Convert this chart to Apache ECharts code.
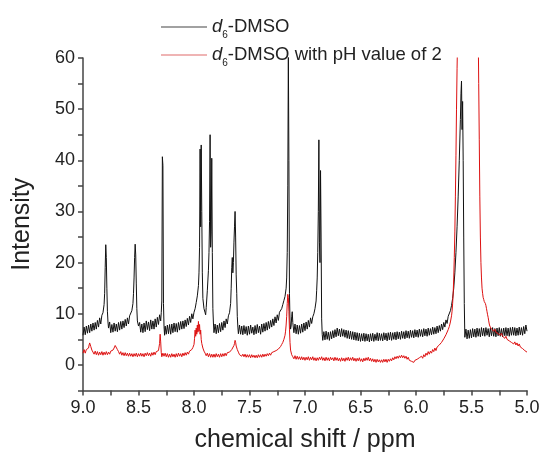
<!DOCTYPE html>
<html>
<head>
<meta charset="utf-8">
<script src="https://cdn.jsdelivr.net/npm/echarts@6/dist/echarts.min.js"></script>
<style>html,body{margin:0;padding:0;background:#fff}#c{width:547px;height:461px}</style>
</head>
<body>
<div id="c"></div>
<script>
// chemical shift (ppm), intensity pairs
var dmso = [
[9.00,5.8],[8.99,7.4],[8.98,5.9],[8.97,7.6],[8.96,6.2],[8.95,7.8],[8.94,6.3],[8.93,8.0],[8.92,6.6],[8.91,8.2],[8.90,6.8],[8.89,8.3],[8.88,7.0],[8.87,8.7],[8.86,7.4],[8.85,9.2],[8.84,8.0],[8.83,9.7],[8.82,10.2],[8.81,11.8],[8.805,14],[8.80,19],[8.795,23.5],[8.79,21],[8.785,15],[8.78,10.5],[8.775,8.4],[8.77,7.2],
[8.76,8.4],[8.75,6.3],[8.74,7.9],[8.73,6.4],[8.72,8.2],[8.71,6.6],[8.70,8.0],[8.69,6.5],[8.68,8.3],[8.67,6.8],[8.66,8.5],[8.65,7.0],[8.64,8.6],[8.63,7.3],[8.62,8.9],[8.61,7.6],[8.60,9.2],[8.59,8.0],[8.58,9.6],[8.57,9.8],[8.56,10.6],[8.55,12],[8.545,14],[8.54,17],[8.535,21],[8.53,23.6],[8.525,21.5],[8.52,16],[8.515,11],[8.51,8.6],
[8.50,7.6],[8.49,8.3],[8.48,6.4],[8.47,8.0],[8.46,6.3],[8.45,8.2],[8.44,6.5],[8.43,8.6],[8.42,6.9],[8.41,8.4],[8.40,6.7],[8.39,8.8],[8.38,7.0],[8.37,8.6],[8.36,7.0],[8.35,9.0],[8.34,7.4],[8.33,9.3],[8.32,7.9],[8.31,9.8],[8.30,8.6],[8.295,10.2],[8.29,12.5],[8.285,40.7],[8.28,39],[8.275,12],[8.27,7.5],
[8.265,5.8],[8.26,7.6],[8.25,6.0],[8.24,7.8],[8.23,6.1],[8.22,7.9],[8.21,6.0],[8.20,8.0],[8.19,6.3],[8.18,8.2],[8.17,6.5],[8.16,8.1],[8.15,6.4],[8.14,8.3],[8.13,6.8],[8.12,8.5],[8.11,7.0],[8.10,8.6],[8.09,7.1],[8.08,8.8],[8.07,7.5],[8.06,9.1],[8.05,7.8],[8.04,9.5],[8.03,8.3],[8.02,10],[8.01,9.0],
[8.00,10.3],[7.99,11],[7.98,12.2],[7.97,13.5],[7.96,15.5],[7.955,18],[7.95,23],[7.945,42.2],[7.94,27],[7.935,43],[7.93,30],[7.925,18],[7.92,13],[7.91,11],[7.90,10.2],[7.895,9.8],[7.89,11.2],[7.88,14.5],[7.87,18.5],[7.865,22],[7.86,28],[7.855,45],[7.85,23],[7.845,26],[7.84,40.4],[7.835,22],[7.83,11],[7.825,8.2],
[7.82,6.3],[7.81,8.0],[7.80,6.1],[7.79,7.8],[7.78,6.3],[7.77,8.1],[7.76,6.5],[7.75,8.3],[7.74,6.8],[7.73,8.6],[7.72,7.3],[7.71,9.0],[7.70,8.0],[7.69,9.6],[7.68,10.2],[7.67,12],[7.665,15],[7.66,19],[7.655,21],[7.65,18],[7.645,20],[7.64,24],[7.635,27],[7.63,30],[7.625,25],[7.62,17.6],[7.615,14],[7.61,9.5],[7.605,7.4],
[7.60,6.1],[7.59,7.8],[7.58,6.0],[7.57,7.6],[7.56,5.9],[7.55,7.7],[7.54,6.1],[7.53,7.5],[7.52,5.8],[7.51,7.6],[7.50,6.0],[7.49,7.8],[7.48,6.2],[7.47,7.4],[7.46,5.9],[7.45,7.7],[7.44,6.1],[7.43,7.9],[7.42,6.3],[7.41,7.6],[7.40,6.0],[7.39,8.0],[7.38,6.4],[7.37,8.1],[7.36,6.6],[7.35,8.3],[7.34,6.8],[7.33,8.5],[7.32,7.1],[7.31,8.7],[7.30,7.4],[7.29,9.0],[7.28,7.7],[7.27,9.4],[7.26,8.2],[7.25,9.8],[7.24,8.7],[7.23,10.3],
[7.22,10.4],[7.21,11],[7.20,11.8],[7.19,12.6],[7.18,13.4],[7.17,15],[7.165,17],[7.16,22],[7.155,35],[7.15,61],[7.145,40],[7.14,14],[7.135,8.6],[7.13,7.0],[7.125,7.6],[7.12,9.4],[7.115,10.4],[7.11,8.3],
[7.10,6.3],[7.09,8.0],[7.08,6.1],[7.07,7.8],[7.06,6.0],[7.05,7.7],[7.04,6.2],[7.03,8.0],[7.02,6.4],[7.01,8.2],[7.00,6.7],[6.99,8.4],[6.98,7.0],[6.97,8.7],[6.96,7.4],[6.95,9.2],[6.94,8.1],[6.93,9.4],[6.92,10],[6.91,11],[6.90,12.5],[6.895,14.5],[6.89,17],[6.885,22],[6.88,30],[6.875,44],[6.87,24],[6.865,20],[6.86,38],[6.855,25],[6.85,9],[6.845,6.0],
[6.84,4.8],[6.83,6.5],[6.82,4.9],[6.81,6.6],[6.80,5.0],[6.79,6.4],[6.78,4.8],[6.77,6.5],[6.76,5.1],[6.75,6.7],[6.74,5.3],[6.73,6.9],[6.72,5.5],[6.71,7.2],[6.70,5.7],[6.69,7.0],[6.68,5.5],[6.67,7.1],[6.66,5.6],[6.65,6.9],[6.64,5.4],[6.63,6.8],[6.62,5.2],[6.61,6.7],[6.60,5.1],[6.59,6.6],[6.58,5.0],[6.57,6.5],[6.56,4.9],[6.55,6.4],[6.54,4.8],[6.53,6.3],[6.52,4.7],[6.51,6.2],[6.50,4.6],[6.49,6.1],[6.48,4.7],[6.47,6.2],[6.46,4.6],[6.45,6.1],[6.44,4.7],[6.43,6.0],[6.42,4.5],[6.41,6.1],[6.40,4.7],[6.39,6.2],[6.38,4.6],[6.37,6.0],[6.36,4.8],[6.35,6.3],[6.34,4.7],[6.33,6.2],[6.32,4.8],[6.31,6.1],[6.30,4.7],[6.29,6.3],[6.28,4.9],[6.27,6.2],[6.26,4.7],[6.25,6.3],[6.24,4.9],[6.23,6.4],[6.22,4.8],[6.21,6.3],[6.20,5.0],[6.19,6.4],[6.18,4.9],[6.17,6.5],[6.16,5.1],[6.15,6.4],[6.14,5.0],[6.13,6.6],[6.12,5.2],[6.11,6.5],[6.10,5.1],[6.09,6.7],[6.08,5.3],[6.07,6.6],[6.06,5.2],[6.05,6.8],[6.04,5.4],[6.03,6.7],[6.02,5.3],[6.01,6.9],[6.00,5.5],[5.99,6.8],[5.98,5.4],[5.97,7.0],[5.96,5.6],[5.95,6.9],[5.94,5.5],[5.93,7.1],[5.92,5.7],[5.91,7.0],[5.90,5.6],[5.89,7.2],[5.88,5.8],[5.87,7.1],[5.86,5.9],[5.85,7.4],[5.84,6.0],[5.83,7.3],[5.82,6.1],[5.81,7.6],[5.80,6.3],[5.79,7.7],[5.78,6.6],[5.77,8.0],[5.76,6.9],[5.75,8.3],[5.74,7.4],[5.73,8.8],[5.72,8.1],[5.71,9.5],
[5.70,9.8],[5.69,10.6],[5.68,11.6],[5.67,13],[5.66,15],[5.65,18],[5.64,22],[5.63,27],[5.62,33],[5.61,40],[5.60,48],[5.595,53],[5.59,55.5],[5.585,46],[5.58,51.5],[5.575,40],[5.57,25],[5.565,12],
[5.56,5.4],[5.55,7.0],[5.54,5.1],[5.53,6.8],[5.52,5.2],[5.51,6.9],[5.50,5.3],[5.49,7.1],[5.48,5.5],[5.47,7.0],[5.46,5.4],[5.45,7.2],[5.44,5.6],[5.43,7.1],[5.42,5.5],[5.41,7.3],[5.40,5.7],[5.39,7.2],[5.38,5.6],[5.37,7.3],[5.36,5.8],[5.35,7.1],[5.34,5.5],[5.33,7.2],[5.32,5.7],[5.31,7.3],[5.30,5.6],[5.29,7.1],[5.28,5.5],[5.27,7.2],[5.26,5.7],[5.25,7.3],[5.24,5.6],[5.23,7.1],[5.22,5.5],[5.21,7.2],[5.20,5.7],[5.19,7.3],[5.18,5.7],[5.17,7.2],[5.16,5.6],[5.15,7.3],[5.14,5.8],[5.13,7.4],[5.12,5.8],[5.11,7.3],[5.10,5.7],[5.09,7.2],[5.08,5.8],[5.07,7.4],[5.06,5.9],[5.05,7.3],[5.04,5.8],[5.03,7.5],[5.02,6.1],[5.01,7.8],[5.00,6.6]
];
var dmsoPH2 = [
[9.00,2.3],[8.99,3.0],[8.98,2.3],[8.97,3.0],[8.96,2.7],[8.95,3.3],[8.945,3.9],[8.94,4.3],[8.935,4.2],[8.93,3.6],[8.92,2.9],[8.91,2.6],[8.90,2.1],[8.89,2.7],[8.88,2.0],[8.87,2.6],[8.86,1.9],[8.85,2.5],[8.84,2.0],[8.83,2.6],[8.82,1.9],[8.81,2.5],[8.80,2.0],[8.79,2.6],[8.78,2.0],[8.77,2.5],[8.76,2.1],[8.75,2.7],[8.74,2.4],[8.73,2.9],[8.72,3.3],[8.71,3.8],[8.70,3.9],[8.695,3.5],[8.69,3.0],[8.68,2.6],[8.67,2.1],[8.66,2.6],[8.65,1.9],[8.64,2.4],[8.63,1.8],[8.62,2.4],[8.61,1.8],[8.60,2.3],[8.59,1.7],[8.58,2.3],[8.57,1.7],[8.56,2.2],[8.55,1.6],[8.54,2.2],[8.53,1.7],[8.52,2.3],[8.51,1.6],[8.50,2.2],[8.49,1.7],[8.48,2.3],[8.47,1.7],[8.46,2.2],[8.45,1.6],[8.44,2.3],[8.43,1.8],[8.42,2.4],[8.41,1.8],[8.40,2.3],[8.39,1.7],[8.38,2.4],[8.37,1.9],[8.36,2.5],[8.35,2.0],[8.34,2.6],[8.33,2.3],[8.32,2.8],[8.315,3.0],[8.31,4.2],[8.305,6.0],[8.30,4.5],[8.295,2.4],[8.29,1.6],[8.28,2.3],[8.27,1.7],[8.26,2.3],[8.25,1.6],[8.24,2.2],[8.23,1.5],[8.22,2.1],[8.21,1.5],[8.20,2.2],[8.19,1.6],[8.18,2.1],[8.17,1.5],[8.16,2.2],[8.15,1.6],[8.14,2.3],[8.13,1.7],[8.12,2.2],[8.11,1.6],[8.10,2.3],[8.09,1.8],[8.08,2.4],[8.07,1.9],[8.06,2.5],[8.05,2.1],[8.04,2.7],[8.03,2.6],[8.02,3.0],[8.01,3.4],[8.00,4.0],[7.995,5.2],[7.99,6.8],[7.985,5.6],[7.98,7.2],[7.975,6.0],[7.97,7.8],[7.965,6.4],[7.96,8.5],[7.955,6.6],[7.95,7.9],[7.945,6.0],[7.94,6.8],[7.935,5.0],[7.93,4.2],[7.92,3.3],[7.91,2.7],[7.90,2.3],[7.89,1.8],[7.88,2.3],[7.87,1.6],[7.86,2.2],[7.85,1.5],[7.84,2.1],[7.83,1.5],[7.82,2.1],[7.81,1.5],[7.80,2.2],[7.79,1.6],[7.78,2.1],[7.77,1.5],[7.76,2.2],[7.75,1.6],[7.74,2.2],[7.73,1.7],[7.72,2.3],[7.71,1.8],[7.70,2.4],[7.69,2.1],[7.68,2.5],[7.67,2.6],[7.66,3.0],[7.65,3.3],[7.64,3.8],[7.635,4.2],[7.63,4.8],[7.625,4.4],[7.62,3.7],[7.61,3.0],[7.60,2.5],[7.59,2.0],[7.58,2.2],[7.57,1.7],[7.56,2.1],[7.55,1.6],[7.54,2.1],[7.53,1.5],[7.52,2.0],[7.51,1.5],[7.50,2.0],[7.49,1.4],[7.48,2.0],[7.47,1.5],[7.46,1.9],[7.45,1.4],[7.44,1.9],[7.43,1.4],[7.42,2.0],[7.41,1.5],[7.40,2.0],[7.39,1.5],[7.38,2.1],[7.37,1.6],[7.36,2.1],[7.35,1.7],[7.34,2.2],[7.33,1.8],[7.32,2.3],[7.31,1.9],[7.30,2.4],[7.29,2.1],[7.28,2.6],[7.27,2.4],[7.26,2.8],[7.25,2.7],[7.24,3.1],[7.23,3.3],[7.22,3.6],[7.21,4.0],[7.20,4.4],[7.19,5.0],[7.18,5.8],[7.175,6.6],[7.17,7.8],[7.165,9.5],[7.16,12],[7.155,13.8],[7.15,13.2],[7.145,10.5],[7.14,7.0],[7.135,4.4],[7.13,2.9],[7.12,2.0],[7.11,1.6],[7.10,1.2],[7.09,1.8],[7.08,1.1],[7.07,1.7],[7.06,1.1],[7.05,1.6],[7.04,1.0],[7.03,1.6],[7.02,1.0],[7.01,1.5],[7.00,0.9],[6.99,1.5],[6.98,1.0],[6.97,1.6],[6.96,0.9],[6.95,1.5],[6.94,1.0],[6.93,1.6],[6.92,0.9],[6.91,1.4],[6.90,0.8],[6.89,1.4],[6.88,0.9],[6.87,1.5],[6.86,1.0],[6.85,1.6],[6.84,0.9],[6.83,1.4],[6.82,0.8],[6.81,1.5],[6.80,0.9],[6.79,1.4],[6.78,0.8],[6.77,1.5],[6.76,1.0],[6.75,1.4],[6.74,0.8],[6.73,1.5],[6.72,0.9],[6.71,1.4],[6.70,0.8],[6.69,1.3],[6.68,0.7],[6.67,1.4],[6.66,0.8],[6.65,1.3],[6.64,0.7],[6.63,1.4],[6.62,0.9],[6.61,1.5],[6.60,0.8],[6.59,1.4],[6.58,0.9],[6.57,1.5],[6.56,0.8],[6.55,1.3],[6.54,0.7],[6.53,1.3],[6.52,0.8],[6.51,1.4],[6.50,0.7],[6.49,1.2],[6.48,0.6],[6.47,1.3],[6.46,0.8],[6.45,1.4],[6.44,0.9],[6.43,1.5],[6.42,0.8],[6.41,1.3],[6.40,0.7],[6.39,1.2],[6.38,0.6],[6.37,1.1],[6.36,0.5],[6.35,1.1],[6.34,0.6],[6.33,1.0],[6.32,0.5],[6.31,1.0],[6.30,0.5],[6.29,1.1],[6.28,0.6],[6.27,1.1],[6.26,0.5],[6.25,1.1],[6.24,0.7],[6.23,1.2],[6.22,0.8],[6.21,1.4],[6.20,1.0],[6.19,1.6],[6.18,1.2],[6.17,1.7],[6.16,1.3],[6.15,1.8],[6.14,1.4],[6.13,1.9],[6.12,1.4],[6.11,1.8],[6.10,1.3],[6.09,1.7],[6.08,1.1],[6.07,1.5],[6.06,0.9],[6.05,1.2],[6.04,0.7],[6.03,1.0],[6.02,0.5],[6.01,0.9],[6.00,0.6],[5.99,1.1],[5.98,0.8],[5.97,1.4],[5.96,1.1],[5.95,1.7],[5.94,1.3],[5.93,2.0],[5.92,1.6],[5.91,2.3],[5.90,1.9],[5.89,2.6],[5.88,2.1],[5.87,2.7],[5.86,2.3],[5.85,3.0],[5.84,2.6],[5.83,3.3],[5.82,2.8],[5.81,3.5],[5.80,3.2],[5.79,3.9],[5.78,3.6],[5.77,4.4],[5.76,4.4],[5.75,5.1],[5.74,5.2],[5.73,5.9],[5.72,6.2],[5.71,6.9],[5.70,7.5],[5.69,8.4],[5.68,9.6],[5.675,10.5],[5.67,12],[5.665,14],[5.66,17],[5.655,21],[5.65,26],[5.645,33],[5.64,41],[5.635,50],[5.63,58],[5.62,70],[5.61,82],[5.58,95],[5.52,98],[5.47,90],[5.45,78],[5.44,66],[5.435,55],[5.43,44],[5.425,33],[5.42,25],[5.415,20],[5.41,17],[5.405,15],[5.40,14],[5.395,13.2],[5.39,12.8],[5.385,12.4],[5.38,12.6],[5.375,12],[5.37,11.6],[5.365,11],[5.36,10.4],[5.355,9.8],[5.35,9.3],[5.345,8.6],[5.34,8.0],[5.335,7.6],[5.33,7.3],[5.32,7.0],[5.31,7.2],[5.30,6.6],[5.29,7.0],[5.28,6.4],[5.27,6.7],[5.26,6.1],[5.25,6.4],[5.24,5.8],[5.23,6.2],[5.22,5.6],[5.21,5.9],[5.20,5.2],[5.19,5.6],[5.18,5.0],[5.17,5.3],[5.16,4.7],[5.15,5.0],[5.14,4.4],[5.13,4.7],[5.12,4.1],[5.11,4.5],[5.10,3.9],[5.09,4.3],[5.08,3.7],[5.07,4.1],[5.06,3.5],[5.05,3.8],[5.04,3.2],[5.03,3.5],[5.02,2.8],[5.01,3.1],[5.00,2.5]
];
var seriesNames = ['d6-DMSO', 'd6-DMSO with pH value of 2'];
var seriesColors = ['#111111', '#dd1111'];
var xLabelValues = [9.0, 8.5, 8.0, 7.5, 7.0, 6.5, 6.0, 5.5, 5.0];
var yLabelValues = [0, 10, 20, 30, 40, 50, 60];

var FONT = '"Liberation Sans", Arial, sans-serif';
var chart = echarts.init(document.getElementById('c'), null, {renderer: 'canvas'});
chart.setOption({
  animation: false,
  backgroundColor: '#ffffff',
  grid: {left: 83, right: 20, top: 58, bottom: 70.5, outerBoundsMode: 'none'},
  legend: {
    orient: 'vertical',
    left: 156,
    top: 11,
    itemWidth: 46,
    itemHeight: 1.2,
    itemGap: 4,
    data: [
      {name: seriesNames[0], icon: 'rect', itemStyle: {color: '#444'}},
      {name: seriesNames[1], icon: 'rect', itemStyle: {color: '#e06a6a'}}
    ],
    formatter: function (name) {
      return name === seriesNames[0]
        ? '{i|d}{s|6}{n|-DMSO}'
        : '{i|d}{s|6}{n|-DMSO with pH value of 2}';
    },
    textStyle: {
      fontFamily: FONT, fontSize: 18, color: '#222',
      rich: {
        i: {fontFamily: FONT, fontSize: 18.5, fontStyle: 'italic', color: '#222', lineHeight: 22},
        n: {fontFamily: FONT, fontSize: 18.5, color: '#222', lineHeight: 22},
        s: {fontFamily: FONT, fontSize: 10, color: '#222', lineHeight: 10, verticalAlign: 'top', padding: [14, 0, 0, 0]}
      }
    }
  },
  xAxis: {
    type: 'value',
    inverse: true,
    min: 5, max: 9, interval: 0.25,
    name: 'chemical shift / ppm',
    nameLocation: 'middle',
    nameGap: 37,
    nameTextStyle: {fontFamily: FONT, fontSize: 25, color: '#222'},
    axisLine: {onZero: false, lineStyle: {color: '#444', width: 1.5}},
    axisTick: {length: 5, lineStyle: {color: '#444', width: 1.5}},
    axisLabel: {
      margin: 9,
      fontFamily: FONT, fontSize: 18, color: '#222',
      formatter: function (v) {
        for (var k = 0; k < xLabelValues.length; k++) {
          if (Math.abs(xLabelValues[k] - v) < 1e-6) return xLabelValues[k].toFixed(1);
        }
        return '';
      }
    },
    splitLine: {show: false}
  },
  yAxis: {
    type: 'value',
    min: -5, max: 60, interval: 5,
    name: 'Intensity',
    nameLocation: 'middle',
    nameGap: 48,
    nameTextStyle: {fontFamily: FONT, fontSize: 25, color: '#222'},
    axisLine: {show: true, onZero: false, lineStyle: {color: '#444', width: 1.5}},
    axisTick: {show: true, length: 5, lineStyle: {color: '#444', width: 1.5}},
    axisLabel: {
      margin: 8,
      fontFamily: FONT, fontSize: 18, color: '#222',
      formatter: function (v) {
        return yLabelValues.indexOf(Math.round(v)) >= 0 && Math.abs(v - Math.round(v)) < 1e-6 ? String(Math.round(v)) : '';
      }
    },
    splitLine: {show: false}
  },
  series: [
    {name: seriesNames[0], type: 'line', data: dmso, symbol: 'none', clip: true,
     lineStyle: {color: seriesColors[0], width: 1}, itemStyle: {color: seriesColors[0]}},
    {name: seriesNames[1], type: 'line', data: dmsoPH2, symbol: 'none', clip: true,
     lineStyle: {color: seriesColors[1], width: 1}, itemStyle: {color: seriesColors[1]}}
  ]
});
</script>
</body>
</html>
